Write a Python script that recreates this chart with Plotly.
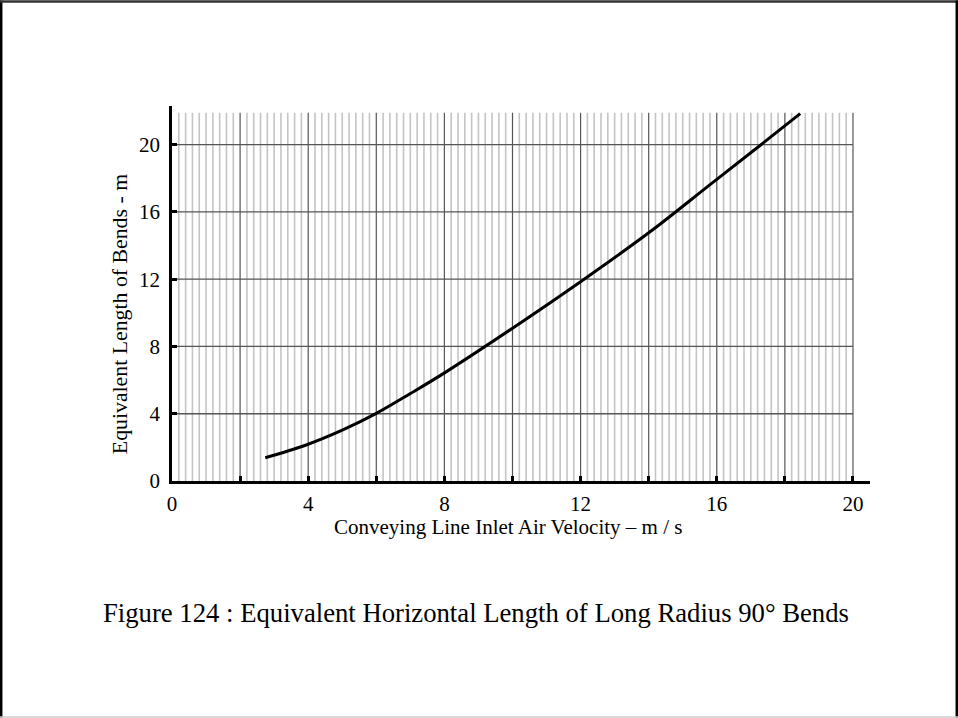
import plotly.graph_objects as go

# Equivalent length of long-radius 90° bends vs. inlet air velocity
velocity = [2.74, 3.94, 5.0, 6.0, 7.0, 8.05, 9.99, 12.02, 14.06, 15.85, 17.27, 18.45]
equiv_length = [1.38, 2.14, 3.02, 4.02, 5.2, 6.49, 9.07, 11.88, 14.85, 17.7, 19.95, 21.85]

x_ticks = [0, 4, 8, 12, 16, 20]
y_ticks = [0, 4, 8, 12, 16, 20]

X_MAX, Y_MAX = 20.5, 22.3
GRID_X_END, GRID_Y_END = 20.0, 21.9

FONT = "Liberation Serif, Times New Roman, serif"

fig = go.Figure()
fig.add_trace(go.Scatter(
    x=velocity, y=equiv_length, mode="lines",
    line=dict(color="black", width=3, shape="spline", smoothing=1.0),
    hoverinfo="skip", showlegend=False,
))

shapes = []
# fine vertical rulings every 0.2, darker every 2
for i in range(1, 101):
    xv = round(i * 0.2, 1)
    major = i % 10 == 0
    shapes.append(dict(
        type="line", xref="x", yref="y", x0=xv, x1=xv, y0=0, y1=GRID_Y_END,
        line=dict(color="#555555" if major else "#c4c4c4", width=1.2 if major else 1.6),
        layer="below",
    ))
# horizontal rulings
for yv in y_ticks[1:]:
    shapes.append(dict(
        type="line", xref="x", yref="y", x0=0, x1=GRID_X_END, y0=yv, y1=yv,
        line=dict(color="#555555", width=1.3), layer="below",
    ))

# page border (paper coordinates extended past the plot domain)
L, R, T, B = 172, 870, 105.6, 481
W, H = 958, 718
def px(xp):
    return (xp - L) / (R - L)
def py(yp):
    return (B - yp) / (B - T)
shapes += [
    dict(type="line", xref="paper", yref="paper", x0=px(1.2), x1=px(1.2), y0=py(0), y1=py(718),
         line=dict(color="black", width=2.5)),
    dict(type="line", xref="paper", yref="paper", x0=px(0), x1=px(958), y0=py(1), y1=py(1),
         line=dict(color="#333333", width=2.5)),
    dict(type="line", xref="paper", yref="paper", x0=px(956.8), x1=px(956.8), y0=py(0), y1=py(718),
         line=dict(color="black", width=2.5)),
    dict(type="line", xref="paper", yref="paper", x0=px(0), x1=px(958), y0=py(717.3), y1=py(717.3),
         line=dict(color="#cccccc", width=1.5)),
]

annotations = [
    dict(text="Conveying Line Inlet Air Velocity – m / s", xref="paper", yref="paper",
         x=px(508), y=py(527), showarrow=False, xanchor="center", yanchor="middle",
         font=dict(family=FONT, size=21, color="black")),
    dict(text="Equivalent Length of Bends - m", xref="paper", yref="paper",
         x=px(120), y=py(314), showarrow=False, textangle=-90, xanchor="center", yanchor="middle",
         font=dict(family=FONT, size=21.8, color="black")),
    dict(text="Figure 124 : Equivalent Horizontal Length of Long Radius 90° Bends",
         xref="paper", yref="paper", x=px(476), y=py(613), showarrow=False,
         xanchor="center", yanchor="middle",
         font=dict(family=FONT, size=26.7, color="black")),
]

fig.update_layout(
    width=W, height=H,
    margin=dict(l=L, r=W - R, t=T, b=H - B, pad=0),
    paper_bgcolor="white", plot_bgcolor="white",
    shapes=shapes, annotations=annotations,
    font=dict(family=FONT, size=21, color="black"),
)
fig.update_xaxes(
    range=[0, X_MAX], tickvals=x_ticks, ticktext=[str(v) for v in x_ticks],
    showgrid=False, zeroline=False,
    showline=True, linecolor="black", linewidth=2.5,
    ticks="inside", ticklen=5, tickwidth=2.5, tickcolor="black",
    minor=dict(tickvals=[2, 6, 10, 14, 18], ticks="inside", ticklen=5, tickwidth=2.5,
               tickcolor="black", showgrid=False),
    tickfont=dict(family=FONT, size=21, color="black"),
    ticklabelstandoff=2,
)
fig.update_yaxes(
    range=[0, Y_MAX], tickvals=y_ticks, ticktext=[str(v) for v in y_ticks],
    showgrid=False, zeroline=False,
    showline=True, linecolor="black", linewidth=2.5,
    ticks="inside", ticklen=5, tickwidth=2.5, tickcolor="black",
    tickfont=dict(family=FONT, size=21, color="black"),
    ticklabelstandoff=5,
)

fig.write_html("out.html")
